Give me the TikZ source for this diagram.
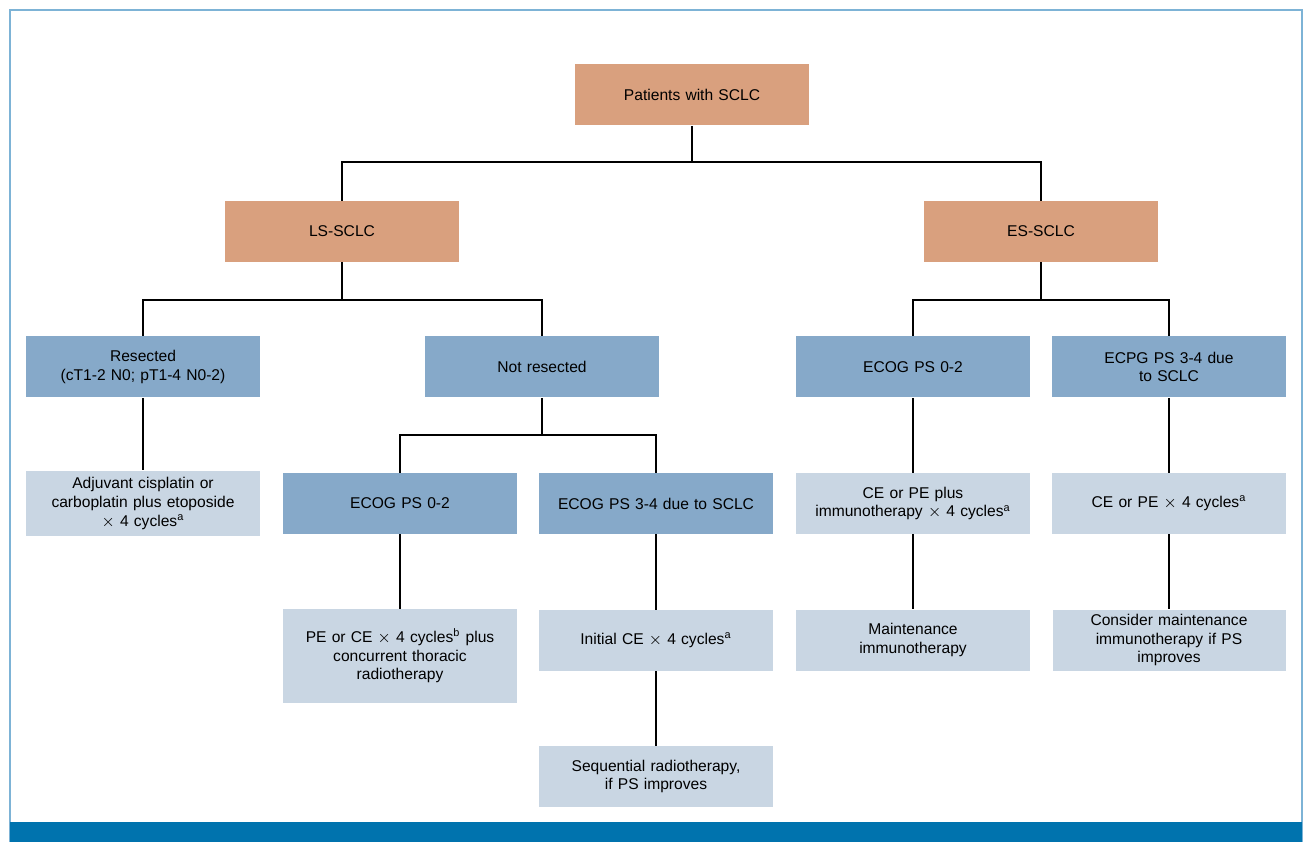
\documentclass[tikz,border=0pt]{standalone}
\usepackage{fontspec}
\setmainfont{Liberation Sans}
\usetikzlibrary{positioning}
\definecolor{salmon}{HTML}{D9A07E}
\definecolor{midblue}{HTML}{86A9C9}
\definecolor{paleblue}{HTML}{C9D6E3}
\definecolor{barblue}{HTML}{0073AE}
\definecolor{frameblue}{HTML}{7DB3D6}
\tikzset{
  box/.style={draw=none,align=center,font=\fontsize{7.8}{9.4}\selectfont,minimum width=116.5pt,text width=110pt,minimum height=30.5pt},
  top/.style={box,fill=salmon},
  mid/.style={box,fill=midblue},
  low/.style={box,fill=paleblue},
  link/.style={black,line width=1pt}
}
\begin{document}
\begin{tikzpicture}[x=0.5pt,y=-0.5pt]
\useasboundingbox (0,0) rectangle (1311,860);
\draw[frameblue,line width=0.8pt] (10,842) -- (10,10) -- (1302,10) -- (1302,842);
\fill[barblue] (10,822) rectangle (1302,842);

\node[top] (pat) at (692,95) {Patients with SCLC};
\node[top] (ls) at (342,231.5) {LS-SCLC};
\node[top] (es) at (1041,231.5) {ES-SCLC};

\node[mid] (res) at (143,367) {Resected\\(cT1-2 N0; pT1-4 N0-2)};
\node[mid] (nres) at (542,367) {Not resected};
\node[mid] (esa) at (913,367) {ECOG PS 0-2};
\node[mid] (esb) at (1169,367) {ECPG PS 3-4 due\\to SCLC};

\node[mid] (lsa) at (400,503.5) {ECOG PS 0-2};
\node[mid] (lsb) at (656,503.5) {ECOG PS 3-4 due to SCLC};

\node[low] (adj) at (143,503.5) {Adjuvant cisplatin or\\carboplatin plus etoposide\\$\times$ 4 cycles\textsuperscript{a}};
\node[low] (esa1) at (913,503.5) {CE or PE plus\\immunotherapy $\times$ 4 cycles\textsuperscript{a}};
\node[low] (esb1) at (1169,503.5) {CE or PE $\times$ 4 cycles\textsuperscript{a}};
\node[low] (esa2) at (913,640) {Maintenance\\immunotherapy};
\node[low,inner sep=0pt] (esb2) at (1169,640) {Consider maintenance\\immunotherapy if PS\\improves};
\node[low,minimum height=47pt] (lsa1) at (400,656) {PE or CE $\times$ 4 cycles\textsuperscript{b} plus\\concurrent thoracic\\radiotherapy};
\node[low] (lsb1) at (656,640.5) {Initial CE $\times$ 4 cycles\textsuperscript{a}};
\node[low] (lsb2) at (656,776.5) {Sequential radiotherapy,\\if PS improves};

% tree connectors
\draw[link] (pat.south) -- (692,162) -| (ls.north);
\draw[link] (692,162) -| (es.north);
\draw[link] (ls.south) -- (342,300) -| (res.north);
\draw[link] (342,300) -| (nres.north);
\draw[link] (es.south) -- (1041,300) -| (esa.north);
\draw[link] (1041,300) -| (esb.north);
\draw[link] (nres.south) -- (542,435) -| (lsa.north);
\draw[link] (542,435) -| (lsb.north);
\draw[link] (res) -- (adj);
\draw[link] (esa) -- (esa1);
\draw[link] (esb) -- (esb1);
\draw[link] (esa1) -- (esa2);
\draw[link] (esb1) -- (esb2);
\draw[link] (lsa) -- (lsa1);
\draw[link] (lsb) -- (lsb1);
\draw[link] (lsb1) -- (lsb2);
\end{tikzpicture}
\end{document}
